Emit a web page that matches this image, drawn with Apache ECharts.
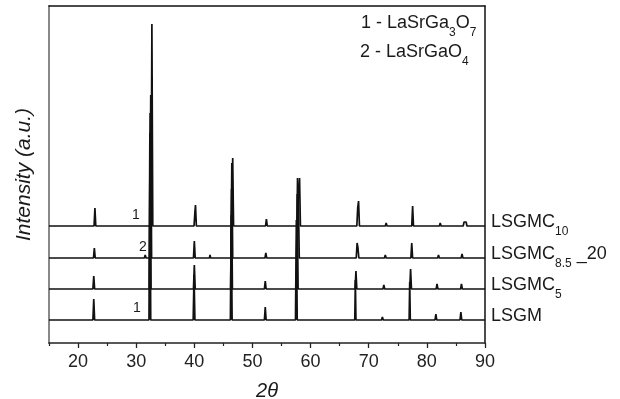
<!DOCTYPE html>
<html>
<head>
<meta charset="utf-8">
<script src="https://cdn.jsdelivr.net/npm/echarts@6/dist/echarts.min.js"></script>
<style>
html,body{margin:0;padding:0;background:#fff;}
#chart{width:620px;height:399px;}
</style>
</head>
<body>
<div id="chart"></div>
<script>
// 2θ tick labels
const majorTicks = [20, 30, 40, 50, 60, 70, 80, 90];
const minorTicks = [15, 25, 35, 45, 55, 65, 75, 85];

// Sample names (top to bottom)
const sampleNames = ['LSGMC10', 'LSGMC8.5_20', 'LSGMC5', 'LSGM'];
// Vertical stacking offsets (a.u.)
const offsets = [117, 85, 54, 23];

// XRD patterns: [2θ, intensity (a.u.)]
const LSGMC10 = [[15,0],[22.75,0],[22.9,18],[23.05,0],[29.8,0],[29.9,2],[30.0,0],[32.55,0],[32.7,202],[32.85,0],[35.2,0],[35.3,1],[35.4,0],[39.95,0],[40.1,14],[40.2,21],[40.35,0],[46.45,0],[46.6,68],[46.75,0],[49.5,0],[49.6,1],[49.7,0],[52.25,0],[52.4,7],[52.55,0],[57.75,0],[57.9,36],[58.0,34],[58.1,48],[58.25,0],[64.5,0],[64.6,1],[64.7,0],[67.95,0],[68.1,18],[68.25,25],[68.4,0],[72.85,0],[73.0,3],[73.15,0],[77.4,0],[77.55,20],[77.7,0],[82.15,0],[82.3,3],[82.45,0],[86.25,0],[86.4,4],[86.55,2],[86.75,4],[86.9,0],[90,0]];
const LSGMC85_20 = [[15,0],[22.65,0],[22.8,10],[22.95,0],[31.4,0],[31.55,3],[31.7,0],[32.35,0],[32.5,163],[32.65,0],[39.85,0],[40.0,17],[40.15,0],[42.6,0],[42.7,3],[42.8,0],[46.3,0],[46.45,95],[46.6,0],[52.15,0],[52.3,5],[52.45,0],[57.6,0],[57.75,80],[57.9,60],[58.05,0],[67.85,0],[68.0,15],[68.15,10],[68.3,0],[72.7,0],[72.85,3],[73.0,0],[77.25,0],[77.4,15],[77.55,0],[81.85,0],[82.0,3],[82.15,0],[85.9,0],[86.05,4],[86.2,0],[90,0]];
const LSGMC5 = [[15,0],[22.55,0],[22.7,13],[22.85,0],[32.25,0],[32.4,176],[32.55,0],[39.85,0],[40.0,24],[40.15,0],[46.25,0],[46.4,100],[46.55,0],[52.05,0],[52.2,8],[52.35,0],[57.55,0],[57.7,95],[57.85,0],[67.65,0],[67.8,18],[67.95,0],[72.45,0],[72.6,4],[72.75,0],[77.05,0],[77.2,20],[77.35,0],[81.6,0],[81.75,5],[81.9,0],[85.8,0],[85.95,5],[86.1,0],[90,0]];
const LSGM = [[15,0],[22.55,0],[22.7,21],[22.85,0],[29.9,0],[30.0,1],[30.1,0],[32.2,0],[32.35,187],[32.5,0],[39.8,0],[39.95,45],[40.1,0],[46.2,0],[46.35,105],[46.5,0],[52.05,0],[52.2,13],[52.35,0],[57.4,0],[57.55,100],[57.7,0],[67.6,0],[67.7,40],[67.8,0],[72.2,0],[72.35,3],[72.5,0],[76.95,0],[77.05,38],[77.15,0],[81.4,0],[81.55,6],[81.7,0],[85.7,0],[85.85,8],[86.0,0],[90,0]];

const patterns = [LSGMC10, LSGMC85_20, LSGMC5, LSGM];

const chart = echarts.init(document.getElementById('chart'), null, {renderer: 'canvas'});
const FONT = 'Liberation Sans, Arial, Helvetica, sans-serif';
const sub = {fontSize: 12, fontFamily: FONT, color: '#1a1a1a', verticalAlign: 'bottom', padding: [0, 0, -7, 0]};

const series = patterns.map((p, i) => ({
  type: 'line',
  name: sampleNames[i],
  data: p.map(d => [d[0], d[1] + offsets[i]]),
  showSymbol: false,
  symbol: 'none',
  lineStyle: {color: '#111', width: 1.7},
  z: 2,
  animation: false
}));

chart.setOption({
  animation: false,
  grid: {left: 49, right: 135, top: 6, bottom: 56, containLabel: false, outerBoundsMode: 'none'},
  xAxis: [{
    type: 'value', min: 15, max: 90, interval: 5, position: 'bottom',
    name: '2θ', nameLocation: 'middle', nameGap: 38,
    nameTextStyle: {fontSize: 20, fontStyle: 'italic', fontFamily: FONT, color: '#1a1a1a'},
    axisLine: {show: true, lineStyle: {color: '#222', width: 1.5}},
    axisTick: {show: true, customValues: majorTicks, length: 5, lineStyle: {color: '#222', width: 1.3}},
    axisLabel: {show: true, customValues: majorTicks, fontSize: 18, fontFamily: FONT, color: '#222', margin: 10},
    splitLine: {show: false}
  }, {
    type: 'value', min: 15, max: 90, interval: 5, position: 'bottom',
    axisLine: {show: false},
    axisTick: {show: true, customValues: minorTicks, length: 3, lineStyle: {color: '#222', width: 1.2}},
    axisLabel: {show: false},
    splitLine: {show: false}
  }, {
    type: 'value', min: 15, max: 90, position: 'top',
    axisLine: {show: true, lineStyle: {color: '#111', width: 1.5}},
    axisTick: {show: false}, axisLabel: {show: false}, splitLine: {show: false}
  }],
  yAxis: [{
    type: 'value', min: 0, max: 337, position: 'left',
    name: 'Intensity (a.u.)', nameLocation: 'middle', nameGap: 14,
    nameTextStyle: {fontSize: 21, fontStyle: 'italic', fontFamily: FONT, color: '#1a1a1a'},
    axisLine: {show: true, lineStyle: {color: '#888', width: 2}},
    axisTick: {show: false}, axisLabel: {show: false}, splitLine: {show: false}
  }, {
    type: 'value', min: 0, max: 337, position: 'right',
    axisLine: {show: true, lineStyle: {color: '#111', width: 1.5}},
    axisTick: {show: false}, axisLabel: {show: false}, splitLine: {show: false}
  }],
  series: series,
  graphic: [
    {type: 'text', left: 361, top: 14, style: {text: '1 - LaSrGa{s|3}O{s|7}', rich: {s: sub}, font: '18px ' + FONT, fill: '#1a1a1a'}},
    {type: 'text', left: 360, top: 43, style: {text: '2 - LaSrGaO{s|4}', rich: {s: sub}, font: '18px ' + FONT, fill: '#1a1a1a'}},
    {type: 'text', left: 491, top: 213, style: {text: 'LSGMC{s|10}', rich: {s: sub}, font: '18px ' + FONT, fill: '#1a1a1a'}},
    {type: 'text', left: 491, top: 245, style: {text: 'LSGMC{s|8.5}{u| _}20', rich: {s: sub, u: {fontSize: 18, fontFamily: FONT, color: '#1a1a1a'}}, font: '18px ' + FONT, fill: '#1a1a1a'}},
    {type: 'text', left: 491, top: 276, style: {text: 'LSGMC{s|5}', rich: {s: sub}, font: '18px ' + FONT, fill: '#1a1a1a'}},
    {type: 'text', left: 491, top: 307, style: {text: 'LSGM', font: '18px ' + FONT, fill: '#1a1a1a'}},
    {type: 'text', left: 132, top: 208, style: {text: '1', font: '14px ' + FONT, fill: '#1a1a1a'}},
    {type: 'text', left: 139, top: 240, style: {text: '2', font: '14px ' + FONT, fill: '#1a1a1a'}},
    {type: 'text', left: 133, top: 301, style: {text: '1', font: '14px ' + FONT, fill: '#1a1a1a'}}
  ]
});
</script>
</body>
</html>
